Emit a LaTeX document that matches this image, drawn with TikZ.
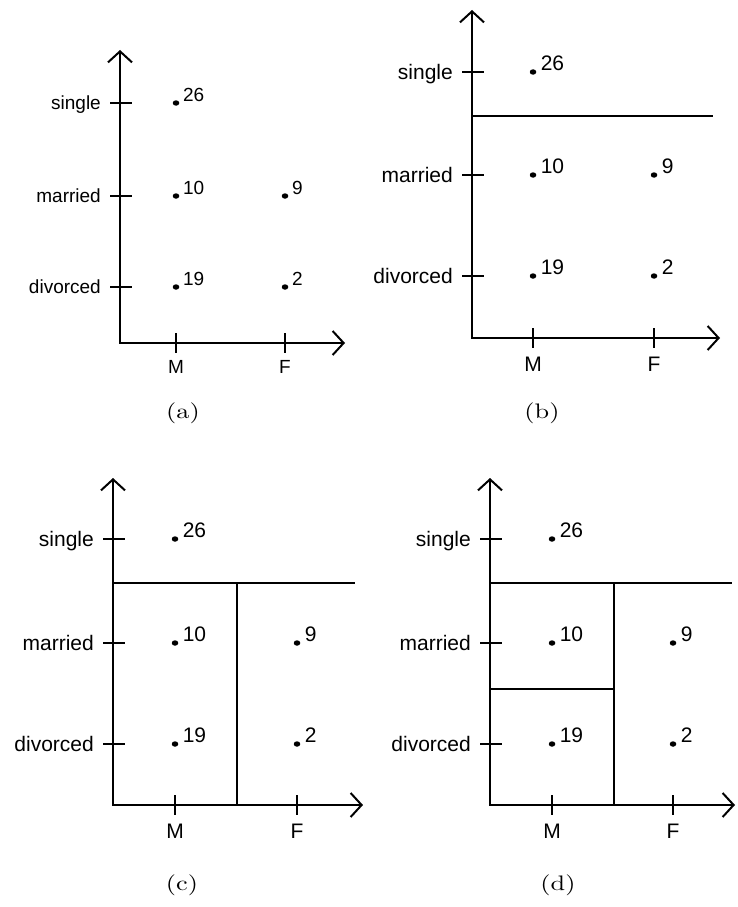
\documentclass[tikz,border=0pt]{standalone}
\usepackage{fontspec}
\newfontfamily\lab{Liberation Sans}
\newfontfamily\capfont{lmroman10-regular.otf}
\usetikzlibrary{arrows.meta,shapes.geometric}
\def\fs{19}\def\cF{285}
\tikzset{
  axes/.style={line width=2pt,
    {Straight Barb[length=11pt,width=24pt]}-{Straight Barb[length=11pt,width=24pt]}},
  splitline/.style={line width=2pt},
  tickmark/.style={line width=2pt},
  pt/.style={ellipse, fill=black, inner sep=0pt, minimum width=6.5pt, minimum height=5.5pt},
  num/.style={anchor=base west, inner sep=0pt, font=\lab\fontsize{\fs}{\fs}\selectfont},
  ylab/.style={anchor=base east, inner sep=0pt, font=\lab\fontsize{\fs}{\fs}\selectfont},
  xlab/.style={anchor=north, inner sep=0pt, font=\lab\fontsize{\fs}{\fs}\selectfont},
  caption/.style={inner sep=0pt, font=\capfont\fontsize{21}{21}\selectfont}
}
\newcommand\captext[1]{\scalebox{1.25}[1]{#1}}
% #1 prefix, #2 ax, #3 oy, #4 top, #5 xend, #6 r1, #7 r2, #8 r3, #9 cM ; uses \cF, \fs
\newcommand\drawpanel[9]{%
  \coordinate (#1o) at (#2,#3);
  \coordinate (#1t) at (#2,#4);
  \coordinate (#1x) at (#5,#3);
  \draw[axes] (#1t) -- (#1o) -- (#1x);
  \pgfmathsetmacro\ysh{-0.36*\fs}
  \pgfmathsetmacro\nx{0.36*\fs}
  \pgfmathsetmacro\my{0.9*\fs}
  \foreach \r/\n in {#6/single,#7/married,#8/divorced}{
    \draw[tickmark] (#2-10,\r) -- (#2+12,\r);
    \node[ylab, yshift=\ysh pt] (#1\n) at (#2-19,\r) {\n};
  }
  \draw[tickmark] (#9,#3-10) -- (#9,#3+10);
  \draw[tickmark] (\cF,#3-10) -- (\cF,#3+10);
  \node[xlab] (#1M) at (#9,#3+\my) {M};
  \node[xlab] (#1F) at (\cF,#3+\my) {F};
  \node[pt] (#1d26) at (#9,#6) {};
  \node[num] (#1n26) at (#9+\nx,#6-1.5) {26};
  \node[pt] (#1d10) at (#9,#7) {};
  \node[num] (#1n10) at (#9+\nx,#7-1.5) {10};
  \node[pt] (#1d9) at (\cF,#7) {};
  \node[num] (#1n9) at (\cF+\nx,#7-1.5) {9};
  \node[pt] (#1d19) at (#9,#8) {};
  \node[num] (#1n19) at (#9+\nx,#8-1.5) {19};
  \node[pt] (#1d2) at (\cF,#8) {};
  \node[num] (#1n2) at (\cF+\nx,#8-1.5) {2};
}
\begin{document}
\begin{tikzpicture}[x=1pt,y=-1pt]
\useasboundingbox (0,0) rectangle (737,907);
% (a)
\def\fs{19}\def\cF{285}
\drawpanel{a}{120}{343}{50}{345}{103}{196}{287}{176}
\node[caption] (capa) at (183,413) {\captext{(a)}};
% (b)
\def\fs{21}\def\cF{654}
\drawpanel{b}{472}{338}{10}{720}{72}{175}{276}{533}
\coordinate (bs1) at (472,116);
\coordinate (bs2) at (713,116);
\draw[splitline] (bs1) -- (bs2);
\node[caption] (capb) at (542,413) {\captext{(b)}};
% (c)
\def\fs{21}\def\cF{297}
\drawpanel{c}{113}{805}{478}{363}{539}{643}{744}{175}
\coordinate (cs1) at (113,583);
\coordinate (cs2) at (355,583);
\coordinate (cv1) at (237,583);
\coordinate (cv2) at (237,805);
\draw[splitline] (cs1) -- (cs2);
\draw[splitline] (cv1) -- (cv2);
\node[caption] (capc) at (182,885) {\captext{(c)}};
% (d)
\def\fs{21}\def\cF{673}
\drawpanel{d}{490}{805}{478}{735}{539}{643}{744}{552}
\coordinate (ds1) at (490,583);
\coordinate (ds2) at (732,583);
\coordinate (dv1) at (614,583);
\coordinate (dv2) at (614,805);
\coordinate (dh1) at (490,689);
\coordinate (dh2) at (614,689);
\draw[splitline] (ds1) -- (ds2);
\draw[splitline] (dv1) -- (dv2);
\draw[splitline] (dh1) -- (dh2);
\node[caption] (capd) at (558,885) {\captext{(d)}};
\end{tikzpicture}
\end{document}
